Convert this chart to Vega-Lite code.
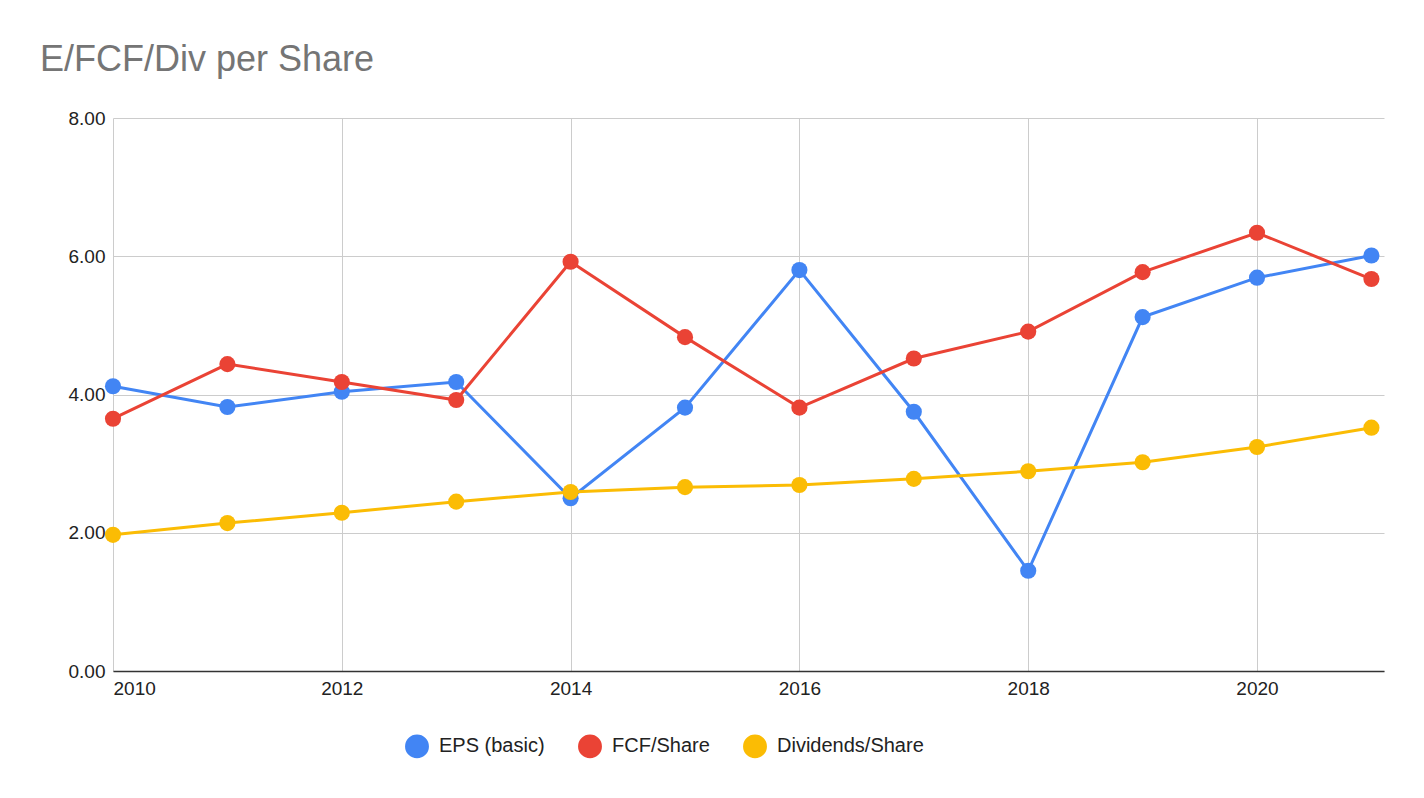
{
"$schema":"https://vega.github.io/schema/vega-lite/v6.json",
"width":1271,"height":553,
"autosize":{"type":"none"},
"padding":{"left":113,"top":118,"right":40,"bottom":127},
"background":"white",
"title":{"text":"E/FCF/Div per Share","anchor":"start","dx":-28,"offset":30,"fontSize":36,"font":"Liberation Sans","fontWeight":"normal","color":"#757575"},
"data":{"values":[
{"year":2010,"s":"EPS (basic)","v":4.12},{"year":2011,"s":"EPS (basic)","v":3.82},{"year":2012,"s":"EPS (basic)","v":4.04},{"year":2013,"s":"EPS (basic)","v":4.18},{"year":2014,"s":"EPS (basic)","v":2.50},{"year":2015,"s":"EPS (basic)","v":3.81},{"year":2016,"s":"EPS (basic)","v":5.80},{"year":2017,"s":"EPS (basic)","v":3.75},{"year":2018,"s":"EPS (basic)","v":1.45},{"year":2019,"s":"EPS (basic)","v":5.12},{"year":2020,"s":"EPS (basic)","v":5.69},{"year":2021,"s":"EPS (basic)","v":6.01},
{"year":2010,"s":"FCF/Share","v":3.65},{"year":2011,"s":"FCF/Share","v":4.44},{"year":2012,"s":"FCF/Share","v":4.18},{"year":2013,"s":"FCF/Share","v":3.92},{"year":2014,"s":"FCF/Share","v":5.92},{"year":2015,"s":"FCF/Share","v":4.83},{"year":2016,"s":"FCF/Share","v":3.81},{"year":2017,"s":"FCF/Share","v":4.52},{"year":2018,"s":"FCF/Share","v":4.91},{"year":2019,"s":"FCF/Share","v":5.77},{"year":2020,"s":"FCF/Share","v":6.34},{"year":2021,"s":"FCF/Share","v":5.67},
{"year":2010,"s":"Dividends/Share","v":1.97},{"year":2011,"s":"Dividends/Share","v":2.14},{"year":2012,"s":"Dividends/Share","v":2.29},{"year":2013,"s":"Dividends/Share","v":2.45},{"year":2014,"s":"Dividends/Share","v":2.59},{"year":2015,"s":"Dividends/Share","v":2.66},{"year":2016,"s":"Dividends/Share","v":2.69},{"year":2017,"s":"Dividends/Share","v":2.78},{"year":2018,"s":"Dividends/Share","v":2.89},{"year":2019,"s":"Dividends/Share","v":3.02},{"year":2020,"s":"Dividends/Share","v":3.24},{"year":2021,"s":"Dividends/Share","v":3.52}
]},
"encoding":{
"x":{"field":"year","type":"quantitative","scale":{"domain":[2010,2021.11],"nice":false,"zero":false},
"axis":{"title":null,"values":[2010,2012,2014,2016,2018,2020],"format":"d","labelFont":"Liberation Sans","labelFontSize":19,"labelColor":"#222","grid":true,"gridColor":"#cccccc","domainColor":"#333","domainWidth":1.5,"ticks":false,"labelPadding":8}},
"y":{"field":"v","type":"quantitative","scale":{"domain":[0,8]},
"axis":{"title":null,"values":[0,2,4,6,8],"format":".2f","labelFont":"Liberation Sans","labelFontSize":19,"labelColor":"#222","gridColor":"#cccccc","domain":false,"ticks":false,"labelPadding":8}},
"color":{"field":"s","type":"nominal","sort":["EPS (basic)","FCF/Share","Dividends/Share"],
"scale":{"domain":["EPS (basic)","FCF/Share","Dividends/Share"],"range":["#4285f4","#ea4335","#fbbc04"]},
"legend":{"title":null,"orient":"none","legendX":292,"legendY":616,"direction":"horizontal","symbolType":"circle","symbolSize":500,"labelFont":"Liberation Sans","labelFontSize":20,"labelColor":"#222","columnPadding":30,"labelOffset":10}}
},
"layer":[
{"mark":{"type":"line","strokeWidth":3}},
{"mark":{"type":"circle","size":260,"opacity":1}}
],
"config":{"view":{"stroke":null}}
}
